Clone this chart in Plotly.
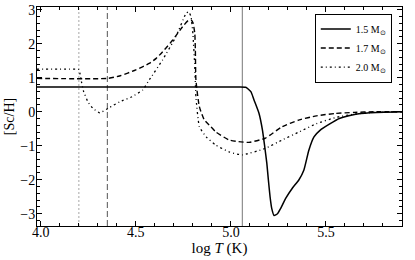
import plotly.graph_objects as go

# ---- data ----
x15 = [3.98, 5.04, 5.078, 5.105, 5.122, 5.148, 5.166, 5.178, 5.189, 5.197, 5.206, 5.215, 5.227,
       5.245, 5.262, 5.288, 5.323, 5.358, 5.384, 5.41, 5.437, 5.47, 5.52, 5.57, 5.65, 5.73, 5.9]
y15 = [0.73, 0.73, 0.72, 0.59, 0.34, -0.05, -0.54, -1.03, -1.52, -2.0, -2.5, -2.85, -3.05,
       -3.0, -2.84, -2.55, -2.25, -2.0, -1.71, -1.13, -0.74, -0.54, -0.36, -0.2, -0.08, -0.03, 0.0]

x17 = [3.98, 4.35, 4.414, 4.5, 4.57, 4.607, 4.65, 4.694, 4.746, 4.775, 4.79, 4.80, 4.81, 4.813,
       4.816, 4.834, 4.86, 4.895, 4.92, 4.99, 5.04, 5.096, 5.18, 5.27, 5.36, 5.45, 5.55, 5.65, 5.75, 5.9]
y17 = [0.98, 0.98, 1.05, 1.23, 1.42, 1.57, 1.82, 2.11, 2.5, 2.68, 2.70, 2.62, 2.3, 1.81,
       0.93, 0.15, -0.24, -0.44, -0.59, -0.83, -0.88, -0.9, -0.78, -0.44, -0.24, -0.12, -0.05, -0.02, 0.0, 0.0]

x20 = [3.98, 4.19, 4.2, 4.207, 4.215, 4.225, 4.248, 4.274, 4.31, 4.36, 4.414, 4.48, 4.536, 4.572,
       4.64, 4.71, 4.764, 4.778, 4.79, 4.80, 4.81, 4.816, 4.834, 4.87, 4.92, 4.99, 5.06, 5.18,
       5.27, 5.36, 5.45, 5.55, 5.65, 5.75, 5.9]
y20 = [1.25, 1.25, 1.24, 1.1, 0.85, 0.6, 0.29, 0.1, -0.03, 0.12, 0.29, 0.44, 0.64, 0.95,
       1.52, 2.2, 2.89, 2.94, 2.8, 2.3, 1.32, 0.44, -0.44, -0.74, -0.98, -1.18, -1.27, -1.08,
       -0.83, -0.59, -0.35, -0.17, -0.07, -0.02, 0.0]

series_names = ["1.5 M<sub>⊙</sub>", "1.7 M<sub>⊙</sub>", "2.0 M<sub>⊙</sub>"]
vline_x = [4.2, 4.35, 5.06]

FONT = "Liberation Serif, Times New Roman, serif"

fig = go.Figure()
fig.add_trace(go.Scatter(x=x15, y=y15, mode="lines", name=series_names[0],
                         line=dict(color="black", width=1.5, shape="spline", smoothing=0.5)))
fig.add_trace(go.Scatter(x=x17, y=y17, mode="lines", name=series_names[1],
                         line=dict(color="black", width=1.4, dash="5px,3px", shape="spline", smoothing=0.5)))
fig.add_trace(go.Scatter(x=x20, y=y20, mode="lines", name=series_names[2],
                         line=dict(color="black", width=1.3, dash="2px,3px,1px,3px", shape="spline", smoothing=0.4)))

vstyles = [dict(color="#bbbbbb", width=1.3, dash="2px,2px"),
           dict(color="#555555", width=1, dash="6px,3px"),
           dict(color="#777777", width=1)]
for vx, st in zip(vline_x, vstyles):
    fig.add_shape(type="line", x0=vx, x1=vx, xref="x", y0=0, y1=1, yref="paper", line=st, layer="below")

axis_common = dict(showgrid=False, zeroline=False, showline=True, linecolor="black", linewidth=1,
                   mirror="allticks", ticks="inside", ticklen=5, tickcolor="black", automargin=False,
                   tickfont=dict(family=FONT, size=14, color="black"))

fig.update_xaxes(range=[3.98, 5.9], dtick=0.5, tick0=4.0, tickformat=".1f", ticklabelstandoff=-7,
                 minor=dict(dtick=0.1, ticks="inside", ticklen=3, tickcolor="black"),
                 title=dict(text="log <i>T</i> (K)", font=dict(family=FONT, size=15, color="black"), standoff=0),
                 **axis_common)
fig.update_yaxes(range=[-3.36, 3.08], dtick=1, tick0=0, ticklabelstandoff=-2,
                 minor=dict(dtick=0.2, ticks="inside", ticklen=3, tickcolor="black"),
                 title=dict(text="[Sc/H]", font=dict(family=FONT, size=14, color="black"), standoff=2),
                 **axis_common)

fig.update_layout(width=415, height=260, margin=dict(l=37, r=13, t=7, b=34),
                  plot_bgcolor="white", paper_bgcolor="white",
                  font=dict(family=FONT, color="black"),
                  legend=dict(x=0.972, y=0.97, xanchor="right", yanchor="top",
                              bgcolor="white", bordercolor="black", borderwidth=1,
                              font=dict(family=FONT, size=10, color="black"),
                              itemwidth=30, tracegroupgap=0))

fig.write_html("out.html", config={"displayModeBar": False},
               post_script="document.body.style.margin='0';document.body.style.overflow='hidden';")
